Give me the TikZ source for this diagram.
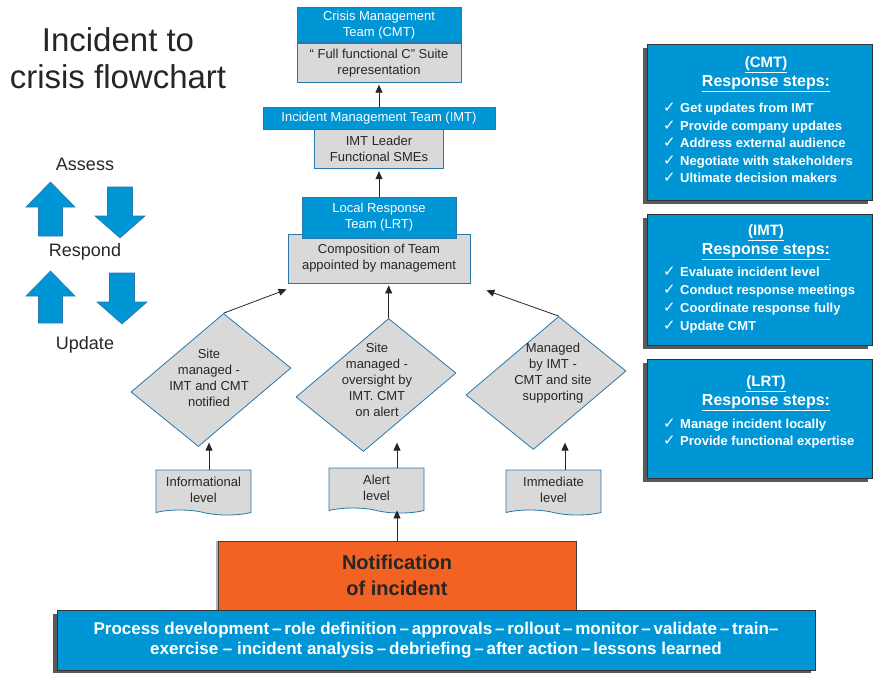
\documentclass[tikz,border=0pt]{standalone}
\usepackage{fontspec}
\setmainfont{Liberation Sans}
\newfontfamily\narrowfont[Ligatures=TeX]{Liberation Sans}
\newfontfamily\symfont{DejaVu Sans}
\usetikzlibrary{positioning,arrows.meta,shapes.geometric,shapes.symbols,shadows}
\definecolor{boxblue}{RGB}{0,150,214}
\definecolor{edgeblue}{RGB}{40,120,170}
\definecolor{boxgray}{RGB}{217,217,217}
\definecolor{notiforange}{RGB}{242,98,34}
\definecolor{inkgray}{RGB}{38,38,38}

\begin{document}
\begin{tikzpicture}[x=1pt, y=-1pt,
  every node/.style={font=\fontsize{13}{16}\selectfont, text=inkgray, inner sep=0pt},
  teambox/.style={draw=edgeblue, fill=boxblue, text=white, align=center, line width=0.8pt},
  membox/.style={draw=edgeblue, fill=boxgray, align=center, line width=0.8pt},
  decision/.style={diamond, draw=edgeblue, fill=boxgray, line width=0.8pt,
    minimum width=160pt, minimum height=133pt, cm={1,0.15,0.19,1,(0,0)}},
  levelbox/.style={tape, tape bend top=none, tape bend bottom=out and in, draw=edgeblue,
    fill=boxgray, line width=0.8pt, minimum width=95pt, minimum height=45pt, align=center},
  stepbox/.style={draw=black!80, fill=boxblue, line width=0.8pt,
    drop shadow={shadow xshift=-4pt, shadow yshift=-4pt, fill=black!65, opacity=1}},
  bigarrow/.style={draw=edgeblue, fill=boxblue, line width=0.6pt},
  arr/.style={draw=inkgray, line width=0.8pt, -{Triangle[length=8pt,width=7pt]}}]
  \useasboundingbox (0,0) rectangle (874,672);

  %----- block arrows (x, tip, tail) -----
  \def\blockup#1#2#3{%
    \filldraw[bigarrow] (#1,#2) -- ++(24.5,25) -- ++(-12.5,0) -- (#1+12,#3)
      -- (#1-12,#3) -- (#1-12,#2+25) -- ++(-12.5,0) -- cycle;
  }
  \def\blockdown#1#2#3{%
    \filldraw[bigarrow] (#1,#2) -- ++(25,-22) -- ++(-12.5,0) -- (#1+12.5,#3)
      -- (#1-12.5,#3) -- (#1-12.5,#2-22) -- ++(-12.5,0) -- cycle;
  }
  % checkmark for the step lists
  \def\ck{\makebox[17pt][l]{\symfont\mdseries\fontsize{15}{15}\selectfont ✓}}

  %----- title and cycle -----
  \node[font=\fontsize{33}{37}\selectfont, align=center] (title) at (118,58)
    {Incident to\\crisis flowchart};
  \node[font=\fontsize{18}{20}\selectfont] (assess) at (85,164) {Assess};
  \node[font=\fontsize{18}{20}\selectfont] (respond) at (85,252) {Respond};
  \node[font=\fontsize{18}{20}\selectfont] (update) at (85,345) {Update};
  \blockup{50.5}{182}{236}
  \blockdown{120}{238}{187}
  \blockup{50.5}{271}{323}
  \blockdown{122}{324}{273}

  %----- team boxes -----
  \node[teambox, minimum width=164pt, minimum height=35pt] (cmt) at (379,25)
    {Crisis Management\\Team (CMT)};
  \node[membox, minimum width=164pt, minimum height=39pt, below=0pt of cmt] (cmtm)
    {\textquotedblleft{} Full functional C\textquotedblright{} Suite\\representation};
  \node[teambox, minimum width=232pt, minimum height=22pt] (imt) at (379,118)
    {Incident Management Team (IMT)};
  \node[membox, minimum width=129pt, minimum height=39pt, below=0pt of imt] (imtm)
    {IMT Leader\\Functional SMEs};
  \node[membox, minimum width=182pt, minimum height=49pt] (lrtm) at (379,258.5)
    {Composition of Team\\appointed by management};
  \node[teambox, minimum width=154pt, minimum height=41pt] (lrt) at (379,217.5)
    {Local Response\\Team (LRT)};

  \draw[arr, shorten >=2pt] (imt) -- (cmtm);
  \draw[arr, shorten >=2pt] (lrt) -- (imtm);

  %----- decisions -----
  \node[decision] (dinfo) at (211,380) {};
  \node[align=center] (dinfot) at (209,378) {Site\\managed -\\IMT and CMT\\notified};
  \node[decision] (dalert) at (376,385) {};
  \node[align=center] (dalertt) at (377,380) {Site\\managed -\\oversight by\\IMT. CMT\\on alert};
  \node[decision] (dimm) at (546,383) {};
  \node[align=center] (dimmt) at (553,373) {Managed\\by IMT -\\CMT and site\\supporting};

  \draw[arr] (dinfo.north) -- ([shift={(-1,6)}]lrtm.south west);
  \draw[arr, shorten >=2pt] (dalert.north) -- (dalert.north |- lrtm.south);
  \draw[arr] (dimm.north) -- ([shift={(16,7)}]lrtm.south east);

  %----- levels -----
  \node[levelbox] (linfo) at (203.5,490) {Informational\\level};
  \node[levelbox] (lalert) at (376.5,488) {Alert\\level};
  \node[levelbox] (limm) at (553.5,490) {Immediate\\level};

  \draw[arr] ([xshift=5.5pt]linfo.north) -- ++(0,-27);
  \draw[arr] (lalert.north -| 397,0) -- ++(0,-25);
  \draw[arr] ([xshift=11.5pt]limm.north) -- ++(0,-27);

  %----- notification and process bar -----
  \node[draw=black!75, fill=notiforange, line width=0.8pt, minimum width=358pt, minimum height=69pt,
    align=center, font=\bfseries\fontsize{20}{26}\selectfont,
    drop shadow={shadow xshift=-2pt, shadow yshift=0pt, fill=black!30, opacity=1}] (notif) at (397,575.5)
    {Notification\\of incident};
  \draw[arr, shorten >=2pt] (notif) -- (notif |- lalert.south);

  \node[stepbox, minimum width=758pt, minimum height=60pt, align=center, text=white,
    font=\narrowfont\bfseries\fontsize{17}{20}\selectfont] (process) at (436,640)
    {Process development\,–\,role definition\,–\,approvals\,–\,rollout\,–\,monitor\,–\,validate\,–\,train–\\
     exercise – incident analysis\,–\,debriefing\,–\,after action\,–\,lessons learned};

  %----- response steps -----
  \node[stepbox, minimum width=225pt, minimum height=156pt] (cmtsteps) at (759.5,122) {};
  \node[align=center, text=white, font=\bfseries\fontsize{16}{19}\selectfont] (cmthead) at (766,74)
    {{\fontsize{15}{19}\selectfont\underline{(CMT)}}\\\underline{Response steps:}};
  \node[anchor=west, align=left, text=white, font=\bfseries\fontsize{13}{17.5}\selectfont] (cmtlist) at (663,143)
    {\ck Get updates from IMT\\\ck Provide company updates\\\ck Address external audience\\
     \ck Negotiate with stakeholders\\\ck Ultimate decision makers};

  \node[stepbox, minimum width=225pt, minimum height=131pt] (imtsteps) at (759.5,279.5) {};
  \node[align=center, text=white, font=\bfseries\fontsize{16}{19}\selectfont] (imthead) at (766,242.5)
    {{\fontsize{15}{19}\selectfont\underline{(IMT)}}\\\underline{Response steps:}};
  \node[anchor=west, align=left, text=white, font=\bfseries\fontsize{13}{18}\selectfont] (imtlist) at (663,300.5)
    {\ck Evaluate incident level\\\ck Conduct response meetings\\\ck Coordinate response fully\\\ck Update CMT};

  \node[stepbox, minimum width=225pt, minimum height=119pt] (lrtsteps) at (759.5,418.5) {};
  \node[align=center, text=white, font=\bfseries\fontsize{16}{19}\selectfont] (lrthead) at (766,393.5)
    {{\fontsize{15}{19}\selectfont\underline{(LRT)}}\\\underline{Response steps:}};
  \node[anchor=west, align=left, text=white, font=\bfseries\fontsize{13}{17}\selectfont] (lrtlist) at (663,434)
    {\ck Manage incident locally\\\ck Provide functional expertise};
\end{tikzpicture}
\end{document}
